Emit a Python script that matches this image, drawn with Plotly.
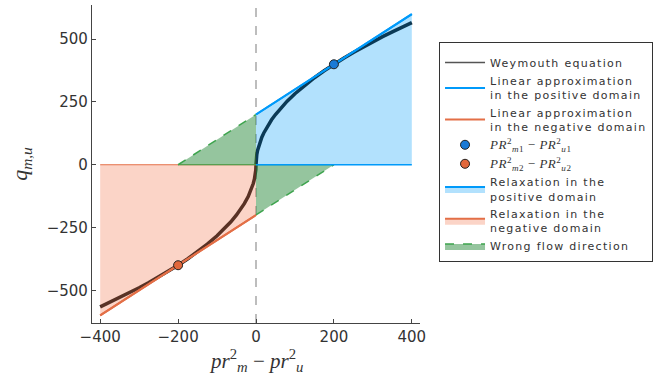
import plotly.graph_objects as go

# ---- data ----
delta_pr2 = [-400, -375, -350, -325, -300, -275, -250, -225, -200, -175, -150, -125, -100,
             -80, -65, -50, -40, -30, -20, -15, -10, -7, -4, -2, -1, -0.5, 0,
             0.5, 1, 2, 4, 7, 10, 15, 20, 30, 40, 50, 65, 80, 100, 125, 150, 175, 200,
             225, 250, 275, 300, 325, 350, 375, 400]
q_weymouth = [-565.69, -547.72, -529.15, -509.90, -489.90, -469.04, -447.21, -424.26, -400.0,
              -374.17, -346.41, -316.23, -282.84, -252.98, -228.04, -200.0, -178.89, -154.92,
              -126.49, -109.54, -89.44, -74.83, -56.57, -40.0, -28.28, -20.0, 0.0,
              20.0, 28.28, 40.0, 56.57, 74.83, 89.44, 109.54, 126.49, 154.92, 178.89, 200.0,
              228.04, 252.98, 282.84, 316.23, 346.41, 374.17, 400.0, 424.26, 447.21, 469.04,
              489.90, 509.90, 529.15, 547.72, 565.69]

x_pos_domain = [0, 400]
q_lin_pos = [200, 600]
x_neg_domain = [-400, 0]
q_lin_neg = [-600, -200]

x_wrong_upper = [-200, 0]
q_wrong_upper = [0, 200]
x_wrong_lower = [0, 200]
q_wrong_lower = [-200, 0]

op_point_1 = ([200], [400])
op_point_2 = ([-200], [-400])

x_ticks = [-400, -200, 0, 200, 400]
y_ticks = [-500, -250, 0, 250, 500]

BLUE = "#009AFA"
ORANGE = "#E36F47"
GREEN = "#3EA44E"


def wide(text):
    return f"<span style=\"letter-spacing:1.3px\">{text}</span>"


fig = go.Figure()

# Weymouth curve (drawn first so the translucent fills tint it)
fig.add_trace(go.Scatter(x=delta_pr2, y=q_weymouth, mode="lines",
                         line=dict(color="#111111", width=3.5),
                         showlegend=False, legendgroup="wey"))
# legend entry for the curve (thin line as in the reference legend)
fig.add_trace(go.Scatter(x=[None], y=[None], mode="lines",
                         line=dict(color="#555555", width=1.5),
                         name=wide("Weymouth equation"), legendrank=1, legendgroup="wey"))

# zero-level boundary line (negative side)
fig.add_trace(go.Scatter(x=x_neg_domain, y=[0] * len(x_neg_domain), mode="lines",
                         line=dict(color=ORANGE, width=1), showlegend=False,
                         hoverinfo="skip"))

# relaxation fills
fig.add_trace(go.Scatter(x=x_pos_domain, y=q_lin_pos, mode="lines", fill="tozeroy",
                         fillcolor="rgba(0,154,250,0.30)",
                         line=dict(color=BLUE, width=2),
                         name=wide("Relaxation in the") + "<br>" + wide("positive domain"),
                         legendrank=6))
fig.add_trace(go.Scatter(x=x_neg_domain, y=q_lin_neg, mode="lines", fill="tozeroy",
                         fillcolor="rgba(242,120,80,0.32)",
                         line=dict(color=ORANGE, width=2),
                         name=wide("Relaxation in the") + "<br>" + wide("negative domain"),
                         legendrank=7))

# wrong flow direction
fig.add_trace(go.Scatter(x=x_wrong_upper, y=q_wrong_upper, mode="lines", fill="tozeroy",
                         fillcolor="rgba(62,150,78,0.55)",
                         line=dict(color=GREEN, width=1.5, dash="dash"),
                         name=wide("Wrong flow direction"), legendrank=8,
                         legendgroup="wrong"))
fig.add_trace(go.Scatter(x=x_wrong_lower, y=q_wrong_lower, mode="lines", fill="tozeroy",
                         fillcolor="rgba(62,150,78,0.55)",
                         line=dict(color=GREEN, width=1.5, dash="dash"),
                         showlegend=False, legendgroup="wrong"))
fig.add_trace(go.Scatter(x=x_wrong_upper + x_wrong_lower, y=[0] * 4, mode="lines",
                         line=dict(color=GREEN, width=1), showlegend=False,
                         hoverinfo="skip"))
fig.add_trace(go.Scatter(x=x_pos_domain, y=[0] * len(x_pos_domain), mode="lines",
                         line=dict(color=BLUE, width=1.5), showlegend=False,
                         hoverinfo="skip"))

# linear approximations
fig.add_trace(go.Scatter(x=x_pos_domain, y=q_lin_pos, mode="lines",
                         line=dict(color=BLUE, width=2),
                         name=wide("Linear approximation") + "<br>" + wide("in the positive domain"),
                         legendrank=2))
fig.add_trace(go.Scatter(x=x_neg_domain, y=q_lin_neg, mode="lines",
                         line=dict(color=ORANGE, width=2),
                         name=wide("Linear approximation") + "<br>" + wide("in the negative domain"),
                         legendrank=3))

serif = "font-family:'Liberation Serif',serif;font-size:13px;letter-spacing:0.5px"
fig.add_trace(go.Scatter(x=op_point_1[0], y=op_point_1[1], mode="markers",
                         marker=dict(color="#1a7ad6", size=9,
                                     line=dict(color="#222", width=1)),
                         name=f"<span style=\"{serif}\"><i>PR</i><sup>2</sup><sub><i>m</i>1</sub> − <i>PR</i><sup>2</sup><sub><i>u</i>1</sub></span>",
                         legendrank=4))
fig.add_trace(go.Scatter(x=op_point_2[0], y=op_point_2[1], mode="markers",
                         marker=dict(color="#E2683C", size=9,
                                     line=dict(color="#222", width=1)),
                         name=f"<span style=\"{serif}\"><i>PR</i><sup>2</sup><sub><i>m</i>2</sub> − <i>PR</i><sup>2</sup><sub><i>u</i>2</sub></span>",
                         legendrank=5))

fig.add_vline(x=0, line=dict(color="#9a9a9a", width=1.3, dash="dash"), layer="below")

axis_common = dict(showline=True, linecolor="#444", linewidth=1.2, ticks="inside",
                   ticklen=4, tickcolor="#444", showgrid=False, zeroline=False,
                   tickfont=dict(family="DejaVu Sans", size=15, color="#333"),
                   mirror=False)

fig.update_layout(
    width=653, height=385,
    margin=dict(l=92, r=233, t=5, b=62, autoexpand=False),
    paper_bgcolor="white", plot_bgcolor="white",
    showlegend=True,
    legend=dict(x=1.058, y=0.884, xanchor="left", yanchor="top",
                bordercolor="#333", borderwidth=1, bgcolor="white",
                font=dict(family="DejaVu Sans", size=11, color="#333"),
                title=dict(text=" ", font=dict(size=4)),
                itemwidth=40,
                tracegroupgap=0),
    xaxis=dict(range=[-421, 421], tickvals=x_ticks, **axis_common),
    yaxis=dict(range=[-630, 636], tickvals=y_ticks,
               title=dict(text="<i>q</i><sub><i>m,u</i></sub>",
                          font=dict(family="Liberation Serif", size=22, color="#333"),
                          standoff=12),
               **axis_common),
)

# x-axis title placed as a paper-anchored label just below the tick labels
fig.add_annotation(text="<i>pr</i><sup>2</sup><sub><i>m</i></sub> − <i>pr</i><sup>2</sup><sub><i>u</i></sub>",
                   xref="paper", yref="paper", x=0.5, y=-0.118, xanchor="center",
                   yanchor="middle", showarrow=False,
                   font=dict(family="Liberation Serif", size=21, color="#333"))

fig.write_html("out.html",
               config={"displayModeBar": False},
               post_script="document.body.style.margin='0';document.body.style.overflow='hidden';")
